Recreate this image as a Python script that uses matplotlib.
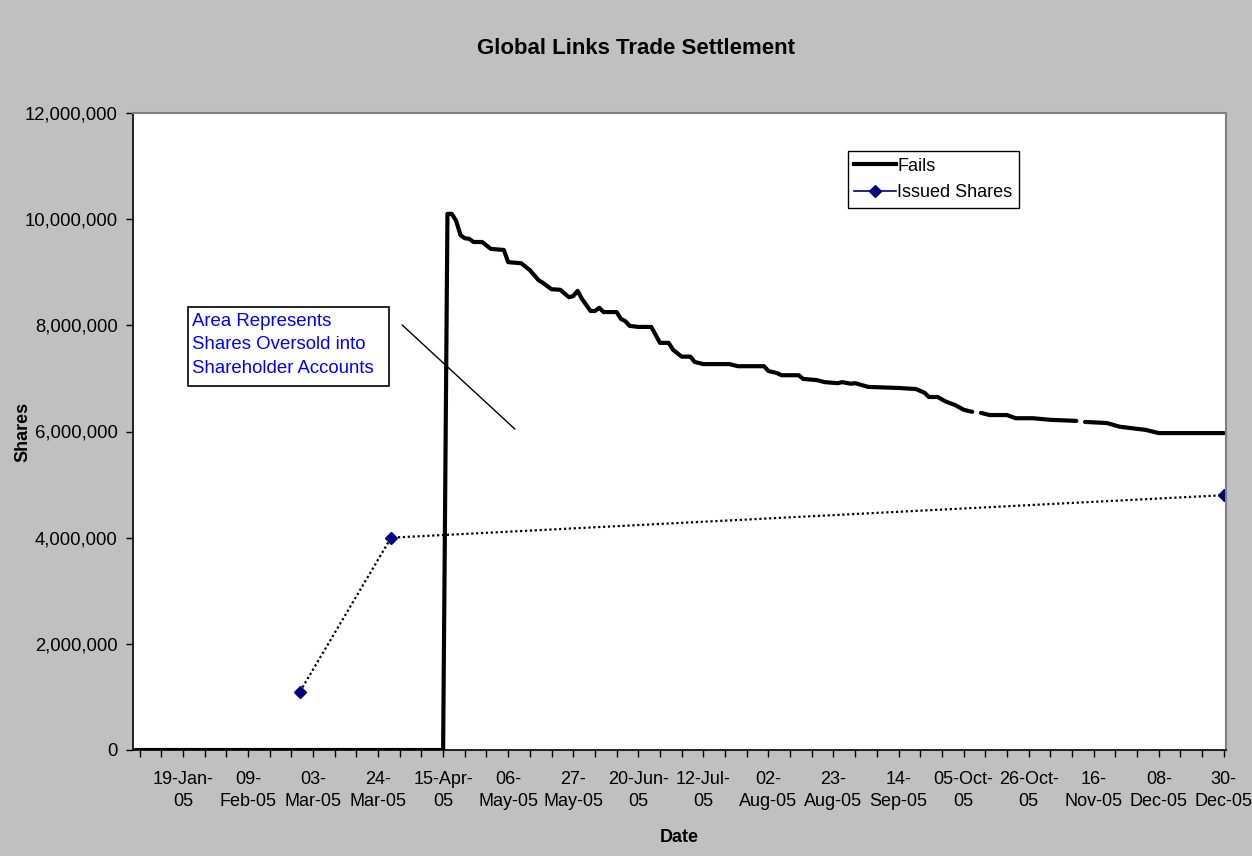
import matplotlib as mpl
mpl.use('Agg')
import matplotlib.pyplot as plt
from matplotlib.lines import Line2D
from matplotlib.patches import Rectangle
import numpy as np
import pandas as pd

plt.rcParams['font.family'] = ['Liberation Sans', 'DejaVu Sans']

# NYSE trading days of 2005 -> category axis
holidays = ['2005-01-17', '2005-02-21', '2005-03-25', '2005-05-30',
            '2005-07-04', '2005-09-05', '2005-11-24', '2005-12-26']
days = pd.bdate_range('2005-01-03', '2005-12-30')
days = days[~days.isin(pd.to_datetime(holidays))]

# Fails (shares), by trading-day index; nan = missing day
fail_day = [0, 71, 72, 73, 74, 75, 76, 77, 78, 80, 82, 85, 86, 89, 91, 93, 94,
            96, 98, 100, 101, 102, 103, 105, 106, 107, 108, 111, 112, 113, 114,
            116, 119, 121, 123, 124, 126, 128, 129, 131, 137, 139, 145, 146,
            148, 149, 153, 154, 157, 159, 162, 163, 165, 166, 169, 176, 180,
            182, 183, 185, 187, 189, 191, 193, 194, 195, 197, 201, 203, 207,
            211, 217, 218, 219, 224, 227, 229, 233, 236, 251]
fail_val = [0, 0, 10.10, 10.10, 9.97, 9.70, 9.64, 9.63, 9.57, 9.57, 9.44,
            9.42, 9.19, 9.17, 9.04, 8.85, 8.80, 8.68, 8.67, 8.53, 8.55, 8.65,
            8.50, 8.27, 8.27, 8.33, 8.25, 8.25, 8.12, 8.08, 7.99, 7.97, 7.97,
            7.67, 7.67, 7.54, 7.41, 7.41, 7.31, 7.27, 7.27, 7.23, 7.23, 7.14,
            7.10, 7.06, 7.06, 6.99, 6.97, 6.93, 6.91, 6.93, 6.90, 6.91, 6.84,
            6.82, 6.80, 6.73, 6.65, 6.65, 6.56, 6.50, 6.41, 6.37, np.nan, 6.35,
            6.31, 6.31, 6.25, 6.25, 6.22, 6.20, np.nan, 6.18, 6.16, 6.09, 6.07,
            6.03, 5.97, 5.97]

# Issued shares
issued_day = [38, 59, 251]
issued_val = [1.1, 4.0, 4.8]

fail_val = np.array(fail_val) * 1e6
issued_val = np.array(issued_val) * 1e6

label_idx = list(range(11, len(days), 15))

def wrap(d):
    if d.strftime('%b') in ('Jan', 'Apr', 'Jun', 'Jul', 'Oct'):
        return d.strftime('%d-%b-') + '\n' + d.strftime('%y')
    return d.strftime('%d-') + '\n' + d.strftime('%b-%y')

tick_labels = [wrap(days[i]) for i in label_idx]

W, H = 1252, 856
fig = plt.figure(figsize=(W / 100, H / 100), dpi=100, facecolor='#C0C0C0')
ax = fig.add_axes([133 / W, 1 - 750 / H, 1093 / W, 637 / H])
ax.set_facecolor('white')

ax.plot(fail_day, fail_val, color='black', lw=3, solid_joinstyle='round',
        solid_capstyle='round')
ax.plot(issued_day, issued_val, color='black', lw=1.6, ls=(0, (1, 1.2)))
ax.plot(issued_day, issued_val, ls='none', marker='D', ms=6,
        color='#000080', mec='#000080')

ax.set_xlim(-0.5, len(days) - 0.5)
ax.set_ylim(0, 12e6)
ax.set_yticks(np.arange(0, 12e6 + 1, 2e6))
ax.yaxis.set_major_formatter(mpl.ticker.FuncFormatter(lambda v, p: f'{v:,.0f}'))
ax.set_xticks(label_idx)
ax.set_xticklabels(tick_labels, linespacing=1.4)
ax.set_xticks(list(range(1, len(days), 5)), minor=True)
ax.tick_params(axis='both', which='both', direction='out', length=5,
               width=1, labelsize=13, colors='black')
ax.tick_params(axis='x', pad=10)
ax.tick_params(axis='y', pad=6, labelsize=13.3)
for s in ['left', 'bottom']:
    ax.spines[s].set_color('black')
    ax.spines[s].set_linewidth(1.2)
for s in ['top', 'right']:
    ax.spines[s].set_color('#808080')
    ax.spines[s].set_linewidth(1.5)

ax.set_xlabel('Date', fontsize=13, fontweight='bold')
ax.set_ylabel('Shares', fontsize=13, fontweight='bold')
ax.xaxis.set_label_coords(0.5, -0.124)
ax.yaxis.set_label_coords(-0.0925, 0.5)
fig.text(636 / W, 1 - 48 / H, 'Global Links Trade Settlement', ha='center',
         va='center', fontsize=16, fontweight='bold')

handles = [Line2D([], [], color='black', lw=3),
           Line2D([], [], color='#000080', lw=1.2, marker='D', ms=6)]
leg = ax.legend(handles, ['Fails', 'Issued Shares'], loc='upper left',
                bbox_to_anchor=(0.654, 0.94), fontsize=13, frameon=True,
                fancybox=False, framealpha=1, edgecolor='black',
                handlelength=2.3, handletextpad=0.1, labelspacing=0.55,
                borderpad=0.35, borderaxespad=0)
leg.get_frame().set_linewidth(1)

# annotation box
ax.add_patch(Rectangle((0.0503, 0.5714), 0.1839, 0.124, transform=ax.transAxes,
                       facecolor='white', edgecolor='black', lw=1.2, zorder=4))
ax.text(0.054, 0.6865, 'Area Represents\nShares Oversold into\nShareholder Accounts',
        transform=ax.transAxes, ha='left', va='top', color='#0000FF',
        fontsize=13.4, linespacing=1.5, zorder=5)
ax.annotate('', xy=(0.3513, 0.5008), xytext=(0.2443, 0.6703),
            xycoords='axes fraction',
            arrowprops=dict(arrowstyle='-', color='black', lw=1))

fig.savefig('out.png', dpi=100, facecolor=fig.get_facecolor())
